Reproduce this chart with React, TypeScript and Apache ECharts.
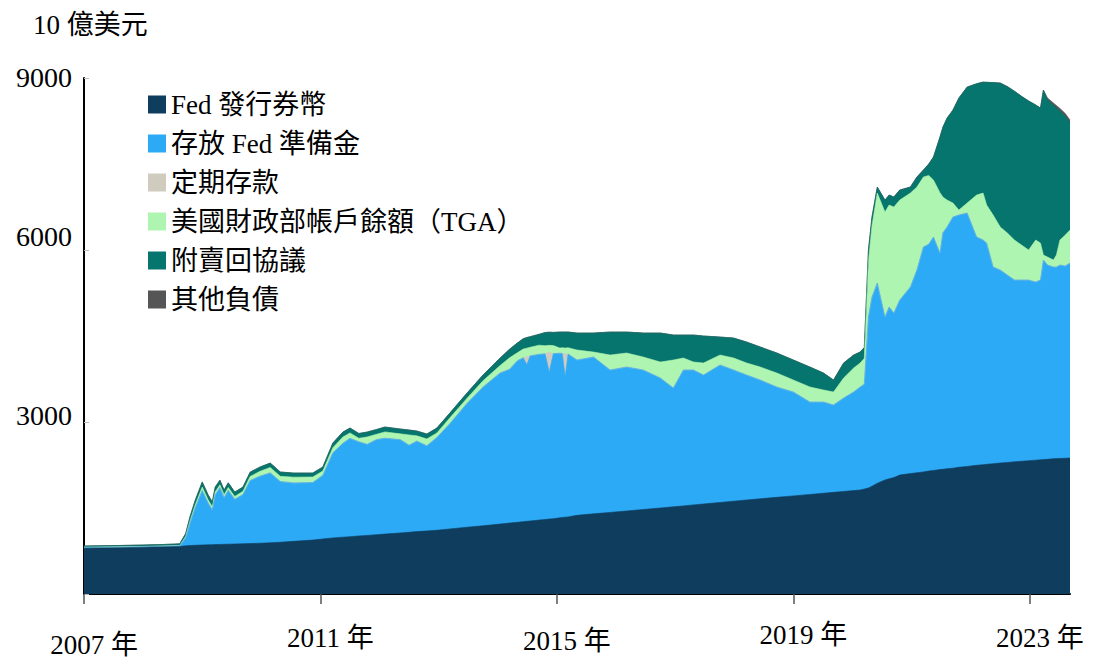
import { useEffect, useRef } from "react";
import * as echarts from "echarts";

// time in years since 2007-01-01
const T = [0, 0.5, 1.0, 1.35, 1.62, 1.72, 1.79, 1.88, 2.0, 2.1, 2.17, 2.22, 2.3, 2.37, 2.44, 2.55, 2.69, 2.81, 2.98, 3.15, 3.32, 3.54, 3.87, 4.04, 4.21, 4.38, 4.5, 4.65, 4.79, 4.95, 5.09, 5.35, 5.5, 5.63, 5.8, 5.97, 6.19, 6.48, 6.75, 7.04, 7.2, 7.33, 7.43, 7.49, 7.55, 7.7, 7.8, 7.87, 7.94, 8.05, 8.09, 8.14, 8.19, 8.34, 8.62, 8.9, 9.18, 9.46, 9.75, 9.97, 10.14, 10.31, 10.48, 10.76, 10.99, 11.21, 11.44, 11.72, 12.0, 12.28, 12.51, 12.68, 12.85, 13.02, 13.13, 13.2, 13.27, 13.33, 13.42, 13.55, 13.62, 13.7, 13.8, 13.98, 14.09, 14.2, 14.29, 14.37, 14.48, 14.53, 14.6, 14.7, 14.8, 14.94, 15.1, 15.21, 15.27, 15.38, 15.5, 15.62, 15.74, 15.86, 15.98, 16.1, 16.18, 16.23, 16.3, 16.4, 16.45, 16.51, 16.6, 16.68];

const currency = [800, 805, 815, 822, 830, 840, 845, 850, 855, 858, 860, 862, 865, 867, 869, 872, 876, 880, 886, 893, 903, 918, 940, 960, 978, 992, 1000, 1012, 1022, 1035, 1045, 1065, 1077, 1088, 1100, 1112, 1135, 1165, 1190, 1220, 1237, 1250, 1262, 1268, 1274, 1290, 1300, 1307, 1313, 1330, 1335, 1340, 1345, 1372, 1398, 1423, 1448, 1474, 1500, 1521, 1537, 1554, 1570, 1597, 1619, 1640, 1661, 1686, 1711, 1737, 1758, 1773, 1789, 1804, 1814, 1830, 1850, 1880, 1930, 1990, 2010, 2030, 2075, 2100, 2115, 2130, 2145, 2155, 2170, 2175, 2185, 2195, 2210, 2225, 2245, 2255, 2262, 2272, 2285, 2295, 2305, 2315, 2325, 2335, 2340, 2345, 2350, 2360, 2362, 2365, 2368, 2372];

const reserves = [12, 12, 10, 12, 12, 140, 380, 650, 950, 730, 610, 870, 990, 815, 940, 780, 860, 1100, 1170, 1220, 1060, 1020, 1005, 1110, 1485, 1638, 1715, 1643, 1588, 1660, 1672, 1628, 1518, 1580, 1485, 1618, 1837, 2160, 2419, 2636, 2683, 2817, 2860, 2730, 2880, 2890, 2890, 2560, 2880, 2870, 2860, 2450, 2840, 2709, 2735, 2484, 2511, 2433, 2267, 2072, 2370, 2353, 2249, 2397, 2288, 2179, 2071, 1924, 1812, 1611, 1590, 1523, 1629, 1719, 1796, 1830, 2981, 3300, 3494, 2841, 2995, 2870, 3052, 3254, 3536, 3922, 3955, 4071, 3777, 4125, 4215, 4380, 4400, 4420, 3981, 3919, 3859, 3431, 3366, 3268, 3171, 3161, 3151, 3106, 3136, 3480, 3388, 3343, 3341, 3373, 3352, 3401];

const termDeposits = [0, 0, 0, 0, 0, 0, 0, 0, 0, 0, 0, 0, 0, 0, 0, 0, 0, 0, 0, 0, 0, 0, 0, 0, 0, 0, 0, 0, 0, 0, 0, 0, 0, 0, 0, 0, 0, 0, 0, 0, 0, 0, 0, 140, 0, 0, 0, 350, 0, 0, 0, 400, 0, 0, 0, 0, 0, 0, 0, 0, 0, 0, 0, 0, 0, 0, 0, 0, 0, 0, 0, 0, 0, 0, 0, 0, 0, 0, 0, 0, 0, 0, 0, 0, 0, 0, 0, 0, 0, 0, 0, 0, 0, 0, 0, 0, 0, 0, 0, 0, 0, 0, 0, 0, 0, 0, 0, 0, 0, 0, 0, 0];

const tga = [5, 5, 5, 5, 5, 25, 40, 50, 60, 55, 50, 50, 50, 50, 50, 50, 55, 70, 85, 95, 90, 100, 95, 75, 90, 110, 95, 60, 130, 90, 110, 100, 180, 90, 120, 80, 100, 90, 110, 130, 200, 140, 150, 150, 150, 160, 140, 120, 140, 90, 100, 100, 110, 174, 87, 261, 244, 226, 279, 488, 209, 139, 210, 174, 209, 210, 227, 244, 209, 262, 210, 227, 349, 418, 419, 450, 969, 1245, 1569, 1831, 1779, 1849, 1744, 1639, 1447, 1220, 1200, 994, 1053, 624, 471, 244, 87, 174, 732, 819, 663, 907, 749, 733, 698, 611, 524, 733, 646, 87, 139, 122, 209, 436, 541, 575];

const repo = [22, 22, 25, 25, 28, 50, 70, 80, 90, 85, 85, 85, 80, 80, 80, 75, 75, 75, 75, 75, 75, 72, 70, 70, 80, 85, 85, 85, 85, 85, 85, 85, 85, 85, 85, 85, 85, 90, 100, 130, 150, 170, 180, 185, 185, 190, 230, 230, 230, 280, 275, 280, 275, 297, 332, 401, 366, 419, 506, 436, 401, 471, 471, 314, 348, 366, 349, 349, 349, 349, 296, 209, 262, 227, 191, 190, 200, 150, 105, 209, 174, 175, 175, 105, 174, 122, 200, 401, 970, 1220, 1429, 1622, 1953, 2023, 1942, 1936, 2141, 2310, 2512, 2554, 2596, 2593, 2600, 2356, 2354, 2878, 2743, 2698, 2568, 2246, 2069, 1869];

const other = [0, 0, 0, 0, 0, 0, 0, 0, 0, 0, 0, 0, 0, 0, 0, 0, 0, 0, 0, 0, 0, 0, 0, 0, 0, 0, 0, 0, 0, 0, 0, 0, 0, 0, 0, 0, 0, 0, 0, 0, 0, 0, 0, 0, 0, 0, 0, 0, 0, 0, 0, 0, 0, 0, 0, 0, 0, 0, 0, 0, 0, 0, 0, 0, 0, 0, 0, 0, 0, 0, 0, 0, 0, 0, 0, 0, 0, 0, 0, 0, 0, 0, 0, 0, 0, 0, 0, 0, 0, 0, 0, 0, 0, 0, 0, 0, 0, 0, 0, 0, 0, 0, 0, 0, 0, 0, 30, 40, 40, 50, 50, 50];

const seriesNames = ["Fed 發行券幣", "存放 Fed 準備金", "定期存款", "美國財政部帳戶餘額（TGA）", "附賣回協議", "其他負債"];
const seriesColors = ["#0F3D5E", "#2DAAF5", "#CFCBBE", "#AEF5B1", "#06756E", "#555555"];
const xTickValues = [0, 4, 8, 12, 16];
const startYear = 2007;
const yMax = 9000;
const yInterval = 3000;

const FONT = "'Liberation Serif', 'Times New Roman', 'Noto Sans CJK TC', serif";

export default function App() {
  const ref = useRef<HTMLDivElement>(null);
  useEffect(() => {
    if (!ref.current) return;
    const chart = echarts.init(ref.current, null, { renderer: "svg" });
    const layers = [currency, reserves, termDeposits, tga, repo, other];
    // cumulative tops (stacking done here; each area fills down to the axis)
    const cum: number[][] = [];
    layers.forEach((vals, k) => {
      cum.push(vals.map((v, i) => v + (k > 0 ? cum[k - 1][i] : 0)));
    });
    const series: any[] = [];
    for (let k = layers.length - 1; k >= 0; k--) {
      series.push({
        name: seriesNames[k],
        type: "line",
        data: T.map((t, i) => [t, cum[k][i]]),
        showSymbol: false,
        symbol: "none",
        lineStyle: { width: 0.6, color: seriesColors[k] },
        itemStyle: { color: seriesColors[k] },
        areaStyle: { color: seriesColors[k], opacity: 1 },
        emphasis: { disabled: true },
        silent: true,
      });
    }
    const xRich: Record<string, any> = {};
    const xLH = [82, 68, 74, 62, 68];
    xLH.forEach((lh, i) => {
      xRich["x" + i] = { fontSize: 27, fontFamily: FONT, color: "#000", lineHeight: lh, padding: [0, 0, 0, 20] };
    });
    chart.setOption({
      animation: false,
      backgroundColor: "#fff",
      title: {
        text: "10 億美元",
        left: 28,
        top: 6,
        textStyle: { fontSize: 27, fontWeight: "normal", color: "#000", fontFamily: FONT },
      },
      legend: {
        orient: "vertical",
        left: 143,
        top: 86,
        itemWidth: 18,
        itemHeight: 18,
        itemGap: 12,
        icon: "rect",
        selectedMode: false,
        data: seriesNames,
        textStyle: { fontSize: 27, lineHeight: 27, color: "#000", fontFamily: FONT },
      },
      grid: { left: 84, right: 32, top: 78, bottom: 65, containLabel: false },
      xAxis: {
        type: "value",
        min: 0,
        max: T[T.length - 1],
        splitLine: { show: false },
        axisLine: { show: true, lineStyle: { color: "#000", width: 2 } },
        axisTick: { show: true, length: 10, customValues: xTickValues, lineStyle: { color: "#555", width: 1.5 } },
        axisLabel: {
          customValues: xTickValues,
          margin: 10,
          formatter: (v: number) => {
            const i = Math.round(v / 4);
            return `{x${i}|${startYear + Math.round(v)} 年}`;
          },
          rich: xRich,
          fontSize: 27,
          fontFamily: FONT,
          color: "#000",
        },
      },
      yAxis: {
        type: "value",
        min: 0,
        max: yMax,
        interval: yInterval,
        splitLine: { show: false },
        axisLine: { show: true, lineStyle: { color: "#000", width: 2 } },
        axisTick: { show: true, inside: true, length: 5, lineStyle: { color: "#bbb" } },
        axisLabel: {
          margin: 12,
          verticalAlign: "bottom",
          fontSize: 28,
          fontFamily: FONT,
          color: "#000",
          formatter: (v: number) => (v === 0 ? "" : `{y${v}|${v}}`),
          rich: {
            y3000: { fontSize: 28, fontFamily: FONT, color: "#000", lineHeight: 14 },
            y6000: { fontSize: 28, fontFamily: FONT, color: "#000", lineHeight: 28 },
            y9000: { fontSize: 28, fontFamily: FONT, color: "#000", lineHeight: 2 },
          },
        },
      },
      series,
    });
    return () => chart.dispose();
  }, []);
  return <div ref={ref} style={{ position: "fixed", left: 0, top: 0, width: 1102, height: 659 }} />;
}
